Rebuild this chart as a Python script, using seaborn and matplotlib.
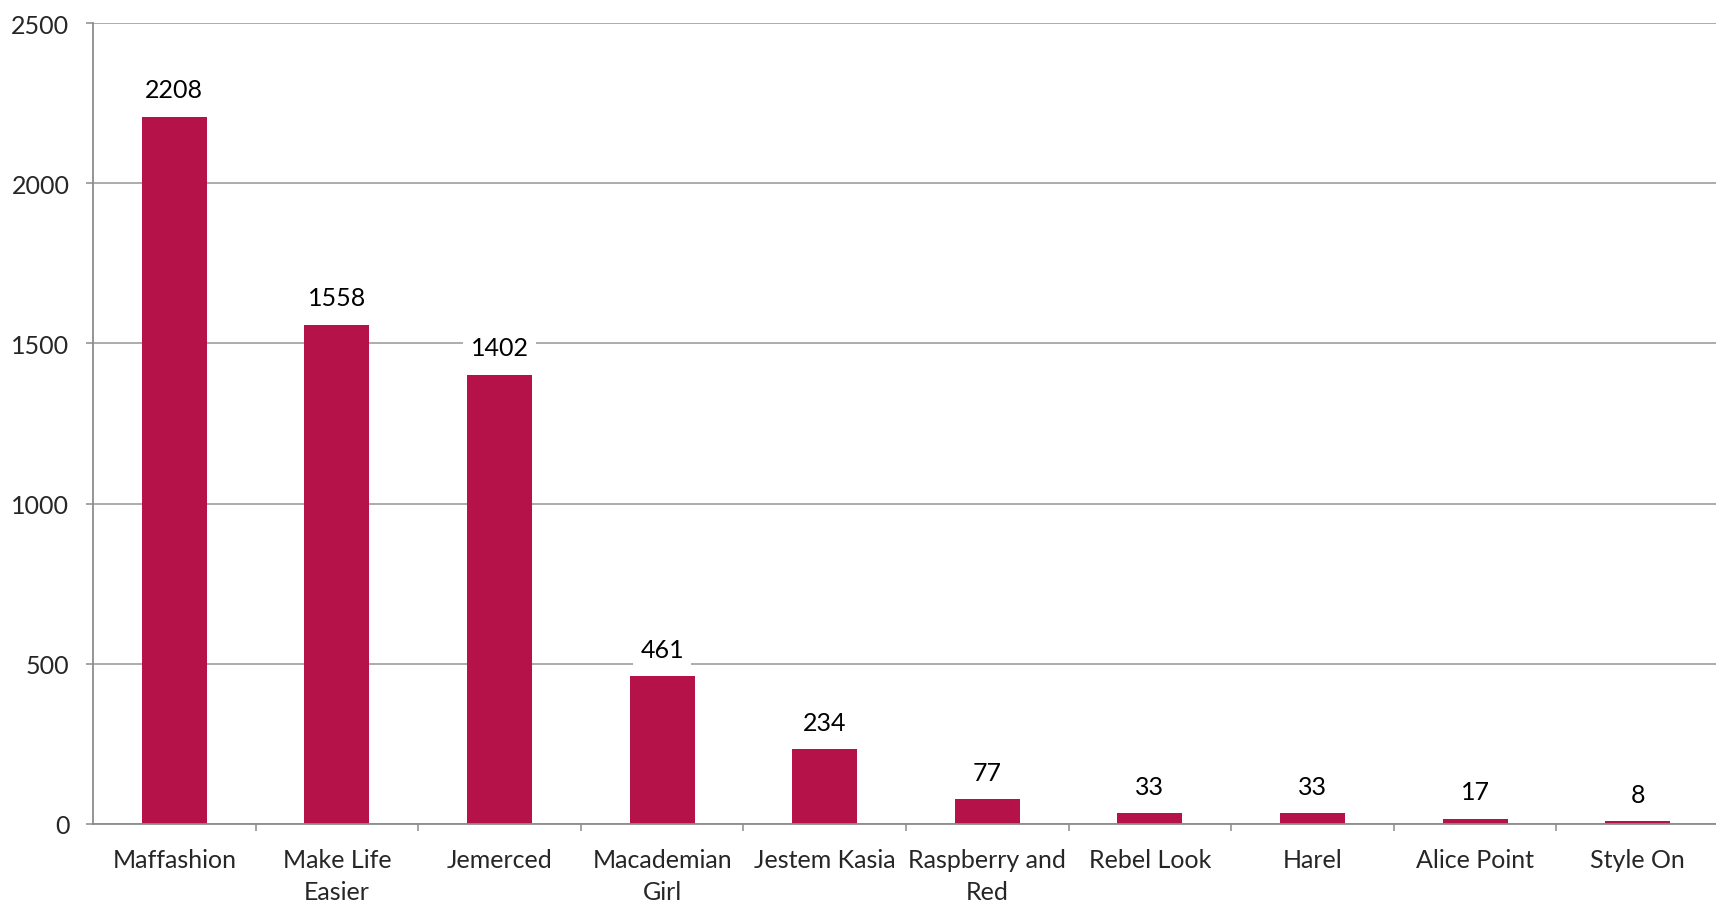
import matplotlib
matplotlib.use("Agg")
import matplotlib.pyplot as plt
import seaborn as sns
import pandas as pd
import numpy as np
from matplotlib.ticker import FixedLocator

categories = ["Maffashion", "Make Life\nEasier", "Jemerced", "Macademian\nGirl", "Jestem Kasia",
              "Raspberry and\nRed", "Rebel Look", "Harel", "Alice Point", "Style On"]
values = [2208, 1558, 1402, 461, 234, 77, 33, 33, 17, 8]
yticks = [0, 500, 1000, 1500, 2000, 2500]

sns.set_style("white")
plt.rcParams['font.family'] = ['Lato', 'DejaVu Sans']

df = pd.DataFrame({"cat": categories, "val": values})

fig = plt.figure(figsize=(17.16, 9.04), dpi=100)
ax = fig.add_axes([93/1716, 1 - 825/904, (1719-93)/1716, (825-24)/904])
ax.set_axisbelow(True)
sns.barplot(data=df, x="cat", y="val", color="#B5124A", width=0.40, ax=ax,
            saturation=1, edgecolor="none", zorder=2)

ax.set_xlim(-0.5, 9.5)
ax.set_ylim(0, 2500)
ax.set_yticks(yticks)
ax.set_yticklabels([str(t) for t in yticks])
ax.yaxis.grid(True, color="#969696", linewidth=1.1, zorder=0)
ax.xaxis.grid(False)

for s in ["top", "right"]:
    ax.spines[s].set_visible(False)
for s in ["left", "bottom"]:
    ax.spines[s].set_color("#8c8c8c")
    ax.spines[s].set_linewidth(1.3)

ax.set_xlabel("")
ax.set_ylabel("")
ax.tick_params(axis="y", length=5, width=1.1, color="#8c8c8c", labelsize=18, pad=12, left=True)
ax.tick_params(axis="x", which="major", length=0, labelsize=18, pad=17)
ax.xaxis.set_minor_locator(FixedLocator(np.arange(0.5, 9.5, 1.0)))
ax.tick_params(axis="x", which="minor", length=5, width=1.1, color="#8c8c8c", bottom=True)
for lbl in ax.get_xticklabels():
    lbl.set_linespacing(1.5)
    lbl.set_verticalalignment("top")

for i, v in enumerate(values):
    ax.annotate(str(v), (i, v), xytext=(0, 27), textcoords="offset pixels",
                ha="center", va="center", fontsize=18, color="black",
                bbox=dict(boxstyle="square,pad=0.3", fc="white", ec="none"), zorder=3)

fig.savefig("out.png", dpi=100)
